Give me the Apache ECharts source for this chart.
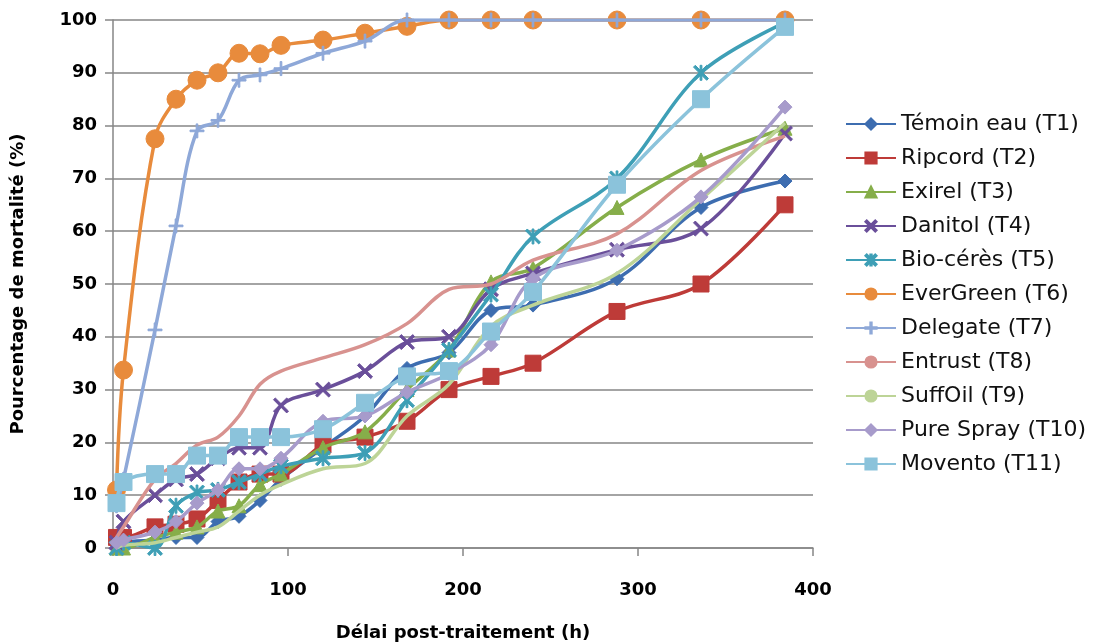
<!DOCTYPE html>
<html>
<head>
<meta charset="utf-8">
<script src="https://cdn.jsdelivr.net/npm/echarts@6/dist/echarts.min.js"></script>
<style>
html,body{margin:0;padding:0;background:#fff;}
#chart{width:1102px;height:643px;}
</style>
</head>
<body>
<div id="chart"></div>
<script>
const hours = [2, 6, 24, 36, 48, 60, 72, 84, 96, 120, 144, 168, 192, 216, 240, 288, 336, 384];

const seriesNames = ['Témoin eau (T1)', 'Ripcord (T2)', 'Exirel (T3)', 'Danitol (T4)', 'Bio-cérès (T5)', 'EverGreen (T6)', 'Delegate (T7)', 'Entrust (T8)', 'SuffOil (T9)', 'Pure Spray (T10)', 'Movento (T11)'];

const temoin    = [0, 1, 1.5, 2, 2, 5, 6, 9, 13, 19, 25, 34, 37, 45, 46, 51, 64.5, 69.5];
const ripcord   = [2, 2, 4, 4.5, 5.5, 9, 12.5, 14, 14, 19.5, 21, 24, 30, 32.5, 35, 44.8, 50, 65];
const exirel    = [0, 0, 2, 3, 4, 7, 8, 12, 14, 19, 22, 30, 37.5, 50.4, 53, 64.5, 73.5, 79.5];
const danitol   = [1, 5, 10, 13, 14, 17, 19, 19, 27, 30, 33.5, 39, 40, 49, 52, 56.5, 60.5, 78.5];
const bioceres  = [0, 1, 0, 8, 10.5, 11, 12.5, 14, 15.5, 17, 18, 28, 37.5, 48, 59, 70, 90, 99.5];
const evergreen = [11, 33.7, 77.5, 85, 88.6, 90, 93.7, 93.6, 95.2, 96.2, 97.5, 98.8, 100, 100, 100, 100, 100, 100];
const delegate  = [8, 13, 41.3, 61, 79, 81, 88.6, 89.6, 90.8, 93.7, 96, 100, 100, 100, 100, 100, 100, 100];
const entrust   = [2, 4, 13, 16, 19.5, 21, 25, 31, 33.5, 36, 38.5, 42.5, 49, 50, 54.5, 59.5, 71.5, 78];
const suffoil   = [0, 0.5, 1, 2, 3, 4, 7, 10, 12, 15, 16, 25, 31, 42, 46, 52, 66, 80.5];
const purespray = [1, 1.5, 3, 5, 8.5, 11, 15, 15, 17, 24, 25, 29.5, 33, 38.5, 51, 56.4, 66.5, 83.5];
const movento   = [8.5, 12.5, 14, 14, 17.5, 17.5, 21, 21, 21, 22.5, 27.5, 32.5, 33.5, 41, 48.5, 68.8, 85, 98.7];

const xTicks = [0, 100, 200, 300, 400];
const yTicks = [0, 10, 20, 30, 40, 50, 60, 70, 80, 90, 100];

const allValues = [temoin, ripcord, exirel, danitol, bioceres, evergreen, delegate, entrust, suffoil, purespray, movento];

const colors = ['#3D6DB0', '#BE3B38', '#86AE4A', '#6A4F9A', '#3E9FB6', '#E88B3C', '#8EA8D8', '#D8928F', '#BDD497', '#A79BCB', '#8BC3DB'];

const xPath = 'path://M0,1.2L1.2,0L10,8.8L8.8,10Z M8.8,0L10,1.2L1.2,10L0,8.8Z';
const starPath = 'path://M0,1.2L1.2,0L10,8.8L8.8,10Z M8.8,0L10,1.2L1.2,10L0,8.8Z M4.4,0L5.6,0L5.6,10L4.4,10Z';
const plusPath = 'path://M4.4,0L5.6,0L5.6,10L4.4,10Z M0,4.4L10,4.4L10,5.6L0,5.6Z';

const symbols = ['diamond', 'rect', 'triangle', xPath, starPath, 'circle', plusPath, 'none', 'none', 'diamond', 'rect'];
const sizes = [14, 16, 14, 15, 15, 18, 14, 0, 0, 14, 17];

const series = seriesNames.map((name, i) => ({
  name: name,
  type: 'line',
  smooth: 0.35,
  data: hours.map((h, k) => [h, allValues[i][k]]),
  symbol: symbols[i],
  symbolSize: sizes[i],
  showSymbol: symbols[i] !== 'none',
  lineStyle: { color: colors[i], width: 3.5 },
  itemStyle: { color: colors[i], borderColor: colors[i], borderWidth: 1 },
  emphasis: { disabled: true },
  z: 2 + i
}));

const chart = echarts.init(document.getElementById('chart'));
chart.setOption({
  animation: false,
  backgroundColor: '#ffffff',
  color: colors,
  grid: { left: 113, right: 289, top: 20, bottom: 95, containLabel: false, outerBoundsMode: 'none' },
  legend: {
    orient: 'vertical',
    left: 840,
    top: 108,
    itemWidth: 50,
    itemHeight: 14,
    itemGap: 12,
    textStyle: { fontFamily: 'DejaVu Sans', fontSize: 22, color: '#111', lineHeight: 21 },
    data: seriesNames
  },
  xAxis: {
    type: 'value',
    min: 0, max: 400, interval: 100,
    name: 'Délai post-traitement (h)',
    nameLocation: 'middle',
    nameGap: 76,
    nameTextStyle: { fontFamily: 'DejaVu Sans', fontWeight: 'bold', fontSize: 18, color: '#000' },
    axisLine: { show: true, lineStyle: { color: '#868686', width: 1.5 } },
    axisTick: { show: true, inside: false, length: 8, lineStyle: { color: '#868686', width: 1.5 } },
    axisLabel: { margin: 33, fontFamily: 'DejaVu Sans', fontWeight: 'bold', fontSize: 18, color: '#000',
      formatter: v => xTicks.includes(v) ? String(v) : '' },
    splitLine: { show: false }
  },
  yAxis: {
    type: 'value',
    min: 0, max: 100, interval: 10,
    name: 'Pourcentage de mortalité (%)',
    nameLocation: 'middle',
    nameGap: 86,
    nameRotate: 90,
    nameTextStyle: { fontFamily: 'DejaVu Sans', fontWeight: 'bold', fontSize: 18, color: '#000' },
    axisLine: { show: true, lineStyle: { color: '#868686', width: 1.5 } },
    axisTick: { show: true, inside: false, length: 8, lineStyle: { color: '#868686', width: 1.5 } },
    axisLabel: { margin: 16, fontFamily: 'DejaVu Sans', fontWeight: 'bold', fontSize: 18, color: '#000',
      formatter: v => yTicks.includes(v) ? String(v) : '' },
    splitLine: { show: true, lineStyle: { color: '#868686', width: 1.5 } }
  },
  series: series
});
</script>
</body>
</html>
